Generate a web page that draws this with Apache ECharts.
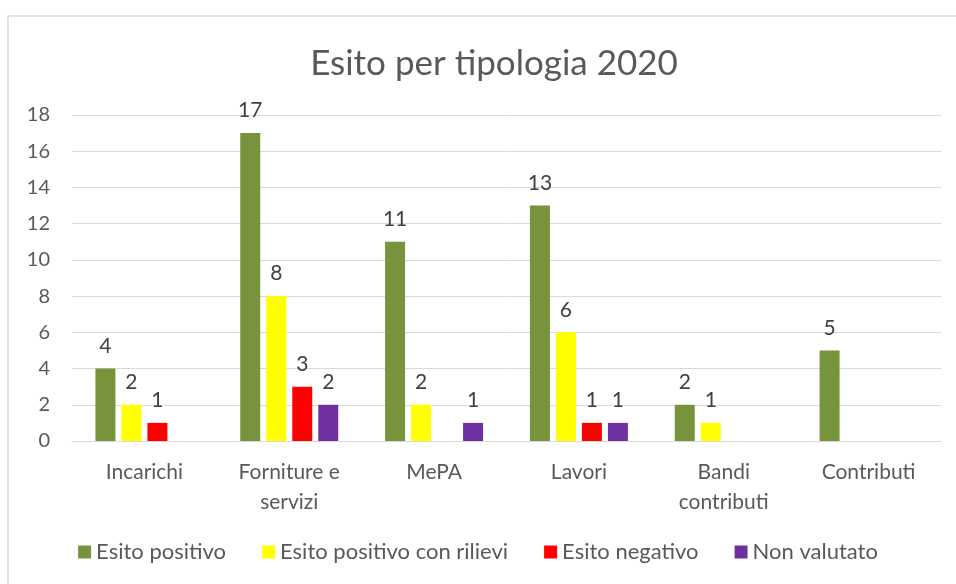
<!DOCTYPE html>
<html>
<head>
<meta charset="utf-8">
<script src="https://cdn.jsdelivr.net/npm/echarts@6/dist/echarts.min.js"></script>
<style>
  html, body { margin: 0; padding: 0; background: #fff; }
  #chart { width: 956px; height: 584px; }
</style>
</head>
<body>
<div id="chart"></div>
<script>
// categorie e valori
const categories = ['Incarichi', 'Forniture e\nservizi', 'MePA', 'Lavori', 'Bandi\ncontributi', 'Contributi']
const esitoPositivo = [4, 17, 11, 13, 2, 5]
const esitoRilievi = [2, 8, 2, 6, 1, null]
const esitoNegativo = [1, 3, null, 1, null, null]
const nonValutato = [null, 2, 1, 1, null, null]

const font = 'Lato, "Open Sans", sans-serif'

const chart = echarts.init(document.getElementById('chart'))

function barSeries(name, data, color) {
  return {
    name: name,
    type: 'bar',
    data: data,
    barWidth: 20,
    barGap: '30%',
    itemStyle: { color: color },
    label: {
      show: true,
      position: 'top',
      distance: 12,
      color: '#404040',
      fontSize: 21,
      fontFamily: font
    }
  }
}

chart.setOption({
  animation: false,
  backgroundColor: '#fff',
  graphic: [{
    type: 'rect',
    shape: { x: 8, y: 16, width: 960, height: 600 },
    style: { fill: 'none', stroke: '#d9d9d9', lineWidth: 1.5 },
    silent: true
  }],
  title: {
    text: 'Esito per tipologia 2020',
    left: 489,
    textAlign: 'center',
    top: 41,
    textStyle: { color: '#595959', fontSize: 35, fontWeight: 'normal', fontFamily: font }
  },
  legend: {
    bottom: 16,
    left: 'center',
    itemWidth: 13,
    itemHeight: 13,
    itemGap: 36,
    icon: 'rect',
    textStyle: { color: '#595959', fontSize: 22, fontFamily: font }
  },
  grid: { left: 72, right: 15, top: 115, bottom: 143 },
  xAxis: {
    type: 'category',
    data: categories,
    axisLine: { lineStyle: { color: '#d9d9d9' } },
    axisTick: { show: false },
    axisLabel: {
      color: '#595959',
      fontSize: 21,
      fontFamily: font,
      margin: 16,
      lineHeight: 30,
      interval: 0
    }
  },
  yAxis: {
    type: 'value',
    min: 0,
    max: 18,
    interval: 2,
    axisLine: { show: false },
    axisTick: { show: false },
    splitLine: { lineStyle: { color: '#d9d9d9' } },
    axisLabel: { color: '#595959', fontSize: 20, fontFamily: font, margin: 22 }
  },
  series: [
    barSeries('Esito positivo', esitoPositivo, '#77933c'),
    barSeries('Esito positivo con rilievi', esitoRilievi, '#ffff00'),
    barSeries('Esito negativo', esitoNegativo, '#ff0000'),
    barSeries('Non valutato', nonValutato, '#7030a0')
  ]
})
</script>
</body>
</html>
